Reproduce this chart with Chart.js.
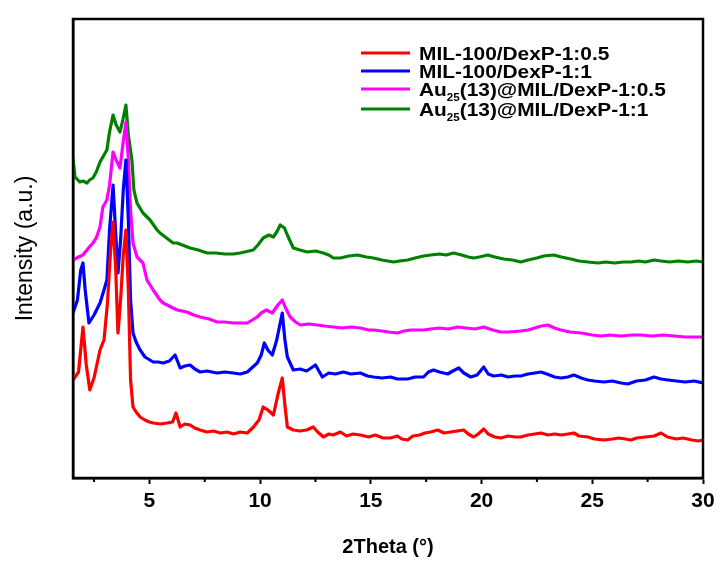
<!DOCTYPE html>
<html>
<head>
<meta charset="utf-8">
<script src="https://cdn.jsdelivr.net/npm/chart.js@4.4.0/dist/chart.umd.min.js"></script>
<style>
  html, body { margin: 0; padding: 0; background: #ffffff; }
  #wrap { width: 720px; height: 564px; }
</style>
</head>
<body>
<div id="wrap"><canvas id="c" width="720" height="564"></canvas></div>
<script>
// ---- Data (2Theta in degrees, intensity in arbitrary units incl. vertical offset) ----
const seriesLabels = ['MIL-100/DexP-1:0.5', 'MIL-100/DexP-1:1', 'Au_{25}(13)@MIL/DexP-1:0.5', 'Au_{25}(13)@MIL/DexP-1:1'];
const seriesColors = ['#ff0000', '#0000ff', '#ff00ff', '#008000'];
const xMajorTicks = [5, 10, 15, 20, 25, 30];
const xMinorTicks = [2.5, 7.5, 12.5, 17.5, 22.5, 27.5];

const thetaRed = [1.55,1.8,2.0,2.15,2.31,2.5,2.77,2.95,3.1,3.25,3.36,3.48,3.58,3.7,3.82,3.94,4.05,4.15,4.26,4.4,4.58,4.8,5.0,5.17,5.5,5.8,6.05,6.2,6.39,6.6,6.84,7.05,7.29,7.6,7.9,8.2,8.5,8.8,9.1,9.42,9.7,9.95,10.14,10.35,10.6,10.8,11.0,11.12,11.23,11.5,11.8,12.1,12.4,12.6,12.86,13.1,13.3,13.63,13.9,14.2,14.53,14.9,15.2,15.55,15.89,16.2,16.4,16.66,16.9,17.2,17.45,17.7,18.02,18.3,18.6,18.9,19.19,19.4,19.64,19.85,20.1,20.3,20.6,20.87,21.2,21.5,21.77,22.1,22.4,22.68,23.0,23.3,23.6,23.9,24.17,24.4,24.8,25.1,25.53,25.9,26.2,26.5,26.75,27.0,27.4,27.8,28.1,28.4,28.8,29.1,29.5,29.8,30.0];
const intRed = [110,118,163,125,100,112,140,150,185,240,268,220,157,190,235,260,200,110,83,78,73,70,68,67,66,67,68,77,63,66,65,62,60,58,59,57,58,56,58,57,63,70,83,80,75,95,112,85,63,60,59,60,63,58,53,56,55,58,54,56,55,53,55,52,52,54,51,50,54,55,57,58,60,57,58,59,60,56,53,56,61,56,53,52,54,53,53,55,56,57,55,56,55,56,57,54,53,51,50,51,52,51,50,52,53,54,57,53,51,52,50,49,50];

const thetaBlue = [1.55,1.75,1.9,2.0,2.1,2.27,2.5,2.77,2.95,3.08,3.2,3.36,3.47,3.58,3.7,3.82,3.94,4.05,4.15,4.26,4.4,4.58,4.8,5.17,5.4,5.62,5.9,6.16,6.39,6.6,6.84,7.05,7.29,7.6,8.06,8.4,8.79,9.1,9.42,9.87,10.05,10.19,10.35,10.55,10.75,11.0,11.12,11.23,11.5,11.8,12.1,12.5,12.81,13.1,13.4,13.76,14.1,14.53,14.85,15.12,15.5,15.89,16.2,16.66,17.0,17.38,17.6,17.83,18.1,18.47,18.7,18.97,19.2,19.51,19.8,20.1,20.3,20.55,20.9,21.2,21.5,21.77,22.1,22.4,22.68,22.95,23.3,23.58,23.9,24.17,24.5,24.8,25.1,25.53,25.9,26.3,26.61,27.0,27.4,27.79,28.1,28.42,28.8,29.2,29.6,30.0];
const intBlue = [177,190,220,227,200,167,175,187,200,210,260,305,260,217,250,300,330,270,190,157,148,140,133,128,128,127,129,135,122,124,125,121,118,119,117,118,117,116,118,127,135,147,140,135,150,177,150,133,120,121,119,125,113,117,116,118,116,117,114,113,112,113,111,111,113,113,118,120,118,116,119,122,117,113,115,123,116,114,115,113,114,114,116,117,118,116,113,112,113,115,112,110,109,108,109,107,106,109,110,113,111,110,109,108,109,107];

const thetaMagenta = [1.55,1.8,2.0,2.25,2.45,2.6,2.77,2.9,3.08,3.2,3.36,3.5,3.67,3.8,3.94,4.05,4.15,4.26,4.44,4.71,4.89,5.17,5.48,5.62,6.07,6.25,6.7,7.0,7.29,7.7,8.06,8.4,8.79,9.1,9.42,9.87,10.05,10.28,10.55,10.8,11.0,11.15,11.36,11.6,11.82,12.2,12.59,12.9,13.31,13.7,14.1,14.53,14.9,15.12,15.5,15.8,16.2,16.5,16.8,17.38,17.7,18.1,18.5,18.92,19.3,19.7,20.1,20.5,20.87,21.2,21.77,22.1,22.4,22.7,22.99,23.3,23.58,24.0,24.5,25.0,25.39,25.8,26.3,26.8,27.2,27.7,28.2,28.7,29.2,29.6,30.0];
const intMagenta = [230,233,235,242,247,252,263,283,290,305,338,330,322,345,368,330,280,247,233,227,210,200,190,187,182,180,178,175,173,171,168,168,167,167,167,173,177,180,177,185,190,182,173,168,165,166,165,164,163,162,163,162,160,160,159,158,157,159,160,160,161,162,161,163,162,161,163,160,158,158,159,160,162,164,165,162,160,158,157,155,154,155,154,155,155,154,155,154,153,153,153];

const thetaGreen = [1.55,1.64,1.86,2.0,2.18,2.3,2.45,2.6,2.77,2.95,3.08,3.2,3.36,3.5,3.67,3.8,3.94,4.05,4.21,4.3,4.44,4.71,5.03,5.35,5.48,6.07,6.25,6.84,7.2,7.61,8.0,8.4,8.79,9.1,9.69,9.9,10.14,10.4,10.6,10.75,10.91,11.1,11.23,11.5,11.8,12.13,12.5,12.86,13.1,13.31,13.63,14.0,14.4,14.8,15.12,15.5,16.03,16.3,16.66,17.0,17.38,17.7,18.1,18.4,18.74,19.1,19.4,19.64,19.9,20.28,20.6,21.0,21.4,21.77,22.1,22.5,22.81,23.26,23.6,24.03,24.4,24.8,25.26,25.6,26.0,26.4,26.75,27.1,27.4,27.79,28.1,28.5,28.9,29.3,29.7,30.0];
const intGreen = [332,313,308,309,307,310,312,318,328,335,340,358,375,365,358,370,385,355,330,300,287,277,270,260,257,247,247,242,240,237,237,236,236,237,240,245,252,255,253,258,265,262,255,242,240,238,239,237,235,232,232,234,235,233,232,230,228,229,230,232,234,235,236,235,237,235,233,232,233,235,233,231,230,228,230,232,234,235,233,231,229,228,227,228,227,228,228,229,228,230,229,228,229,228,229,228];

const thetaSets = [thetaRed, thetaBlue, thetaMagenta, thetaGreen];
const intSets = [intRed, intBlue, intMagenta, intGreen];

const datasets = seriesLabels.map((lab, i) => ({
  label: lab,
  data: thetaSets[i].map((t, k) => ({ x: t, y: intSets[i][k] })),
  borderColor: seriesColors[i],
  backgroundColor: seriesColors[i],
  borderWidth: 3.2,
  borderJoinStyle: 'round',
  pointRadius: 0,
  tension: 0,
  fill: false
}));

const FONT = "'Liberation Sans', Arial, sans-serif";

const framePlugin = {
  id: 'frame',
  afterDraw(chart) {
    const { ctx, chartArea: a, scales } = chart;
    ctx.save();
    ctx.strokeStyle = '#000';
    ctx.lineWidth = 2.5;
    ctx.strokeRect(a.left, a.top, a.right - a.left, a.bottom - a.top);
    ctx.lineWidth = 2;
    xMinorTicks.forEach(v => {
      const x = scales.x.getPixelForValue(v);
      ctx.beginPath();
      ctx.moveTo(x, a.bottom);
      ctx.lineTo(x, a.bottom + 4);
      ctx.stroke();
    });
    ctx.restore();
  }
};

const legendPlugin = {
  id: 'customLegend',
  afterDraw(chart) {
    const { ctx } = chart;
    const rowsY = [53, 71, 89, 109];
    const lineX0 = 361, lineX1 = 410, textX = 419;
    const sx = 1.16;
    ctx.save();
    chart.data.datasets.forEach((ds, i) => {
      const y = rowsY[i];
      ctx.strokeStyle = ds.borderColor;
      ctx.lineWidth = 3;
      ctx.beginPath();
      ctx.moveTo(lineX0, y);
      ctx.lineTo(lineX1, y);
      ctx.stroke();
      const parts = [];
      const re = /_\{([^}]*)\}/g;
      let last = 0, m;
      while ((m = re.exec(ds.label)) !== null) {
        if (m.index > last) parts.push({ t: ds.label.slice(last, m.index), sub: false });
        parts.push({ t: m[1], sub: true });
        last = re.lastIndex;
      }
      if (last < ds.label.length) parts.push({ t: ds.label.slice(last), sub: false });
      ctx.save();
      ctx.translate(textX, y + 6.5);
      ctx.scale(sx, 1);
      ctx.fillStyle = '#000';
      ctx.textBaseline = 'alphabetic';
      ctx.textAlign = 'left';
      let x = 0;
      parts.forEach(p => {
        if (p.sub) {
          ctx.font = 'bold 10px ' + FONT;
          ctx.fillText(p.t, x, 5.5);
        } else {
          ctx.font = 'bold 18px ' + FONT;
          ctx.fillText(p.t, x, 0);
        }
        x += ctx.measureText(p.t).width;
      });
      ctx.restore();
    });
    ctx.restore();
  }
};

new Chart(document.getElementById('c'), {
  type: 'line',
  data: { datasets },
  options: {
    responsive: false,
    animation: false,
    layout: { padding: { top: 19, right: 17, left: 0, bottom: 0 } },
    plugins: { legend: { display: false }, tooltip: { enabled: false } },
    scales: {
      x: {
        type: 'linear',
        min: 1.55,
        max: 30,
        afterBuildTicks: (axis) => { axis.ticks = xMajorTicks.map(v => ({ value: v })); },
        afterFit: (s) => { s.height = 86; },
        ticks: {
          autoSkip: false,
          maxRotation: 0,
          padding: 5,
          color: '#000',
          font: { family: FONT, size: 21, weight: 'bold' }
        },
        grid: { drawOnChartArea: false, drawTicks: true, tickLength: 6, tickWidth: 2, tickColor: '#000' },
        border: { display: true, color: '#000', width: 2.5 },
        title: {
          display: true,
          text: '2Theta (\u00B0)',
          color: '#000',
          font: { family: FONT, size: 20, weight: 'bold' },
          padding: { top: 0, bottom: 5 }
        }
      },
      y: {
        type: 'linear',
        min: 12,
        max: 471,
        afterFit: (s) => { s.width = 73; },
        ticks: { display: false },
        grid: { display: false, drawTicks: false },
        border: { display: true, color: '#000', width: 2.5 },
        title: {
          display: true,
          text: 'Intensity (a.u.)',
          color: '#000',
          font: { family: FONT, size: 23, weight: 'normal' },
          padding: { top: 12, bottom: 0 }
        }
      }
    }
  },
  plugins: [framePlugin, legendPlugin]
});
</script>
</body>
</html>
